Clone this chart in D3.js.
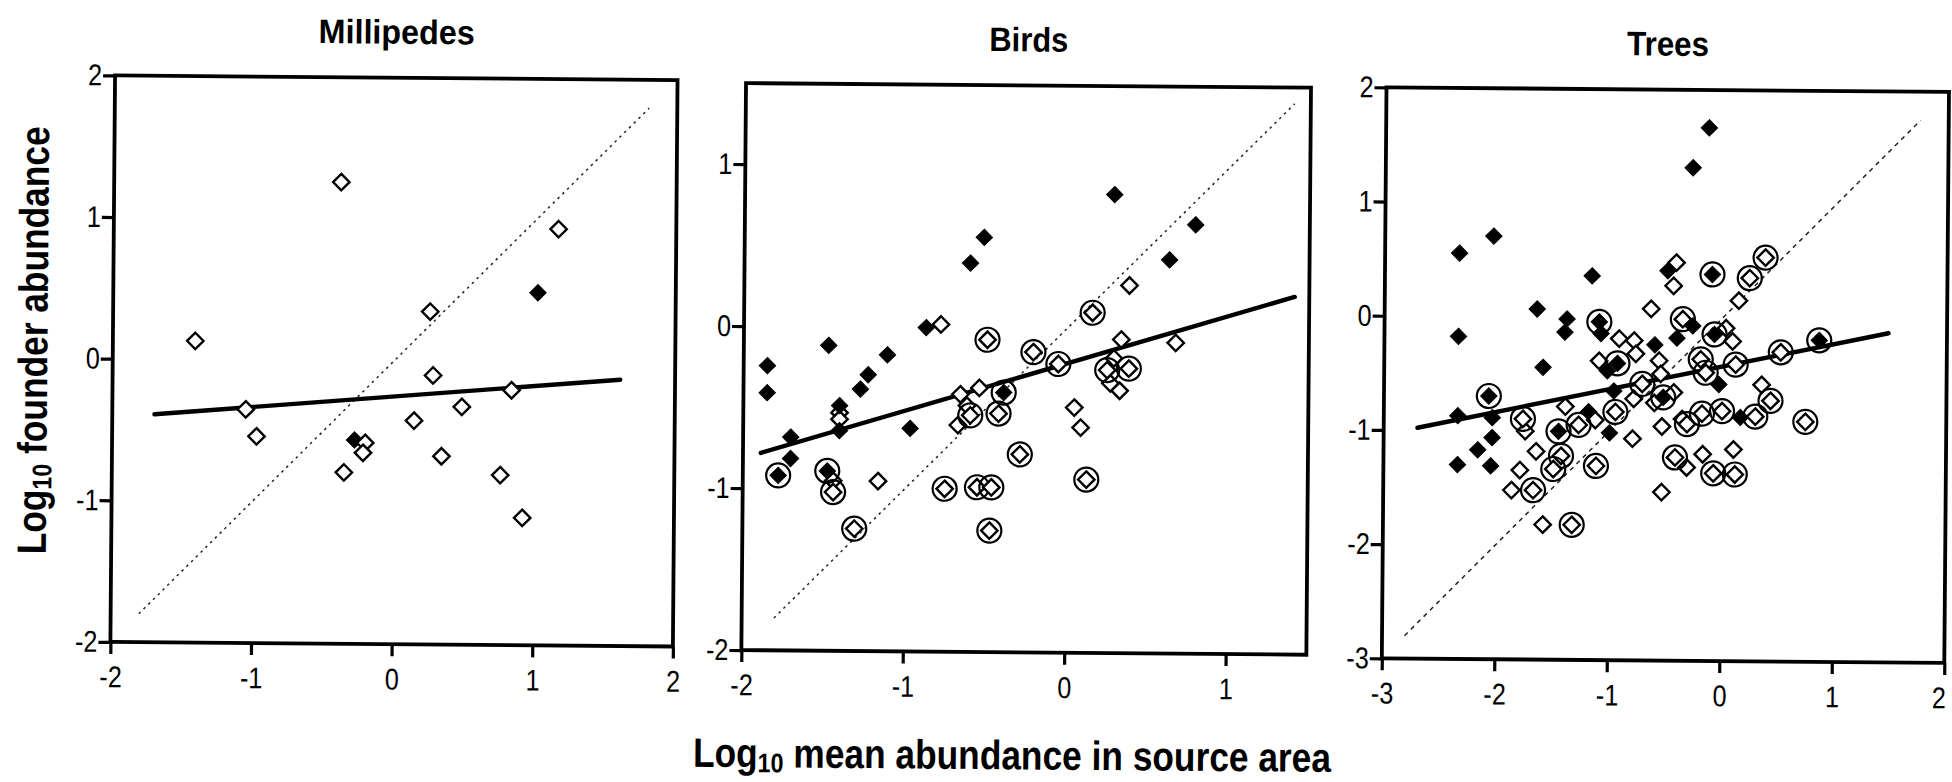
<!DOCTYPE html>
<html><head><meta charset="utf-8">
<script src="https://cdn.jsdelivr.net/npm/d3@7"></script>
<style>html,body{margin:0;padding:0;background:#fff;}svg{display:block}</style>
</head><body>
<svg id="chart" width="1952" height="782"></svg>
<script>
// ---------------- data ----------------
const panelTitles = ["Millipedes", "Birds", "Trees"];
const xAxisTitle = ["Log", "10", " mean abundance in source area"];
const yAxisTitle = ["Log", "10", " founder abundance"];

// point types: f = filled, o = open, fc = filled circled, oc = open circled
const millipedes = [
  [-0.276,-0.56,"f"], [1.02,0.49,"f"],
  [-0.385,1.26,"o"], [1.163,0.94,"o"], [0.255,0.35,"o"], [-1.414,0.13,"o"],
  [0.279,-0.10,"o"], [0.838,-0.20,"o"], [-1.051,-0.35,"o"], [0.485,-0.32,"o"],
  [0.146,-0.42,"o"], [-0.973,-0.54,"o"], [-0.20,-0.58,"o"], [-0.215,-0.65,"o"],
  [0.343,-0.67,"o"], [-0.35,-0.79,"o"], [0.762,-0.80,"o"], [0.921,-1.10,"o"]
];
const birds = [
  [-1.404,-0.53,"o"], [-1.404,-0.57,"o"],
  [0.29,0.83,"f"], [-0.516,0.56,"f"], [-0.60,0.40,"f"], [0.793,0.648,"f"], [0.633,0.43,"f"],
  [-1.853,-0.243,"f"], [-1.853,-0.41,"f"], [-1.474,-0.115,"f"], [-1.11,-0.17,"f"],
  [-1.228,-0.294,"f"], [-1.276,-0.383,"f"], [-0.871,0.0,"f"], [-1.404,-0.486,"f"],
  [-1.404,-0.64,"f"], [-1.705,-0.683,"f"], [-1.705,-0.815,"f"], [-0.966,-0.623,"f"],
  [-0.78,0.02,"o"], [-0.656,-0.41,"o"], [-0.539,-0.37,"o"], [-0.615,-0.48,"o"],
  [-0.67,-0.60,"o"], [-1.162,-0.95,"o"], [-1.44,-0.95,"o"], [0.05,-0.486,"o"],
  [0.09,-0.61,"o"], [0.386,0.27,"o"], [0.338,-0.064,"o"], [0.675,-0.082,"o"],
  [0.293,-0.181,"o"], [0.272,-0.335,"o"], [0.33,-0.38,"o"],
  [-1.781,-0.92,"fc"], [-1.477,-0.89,"fc"], [-0.388,-0.397,"fc"],
  [0.159,0.10,"oc"], [-0.491,-0.072,"oc"], [-0.206,-0.146,"oc"], [-0.051,-0.218,"oc"],
  [-0.594,-0.54,"oc"], [-0.419,-0.527,"oc"], [-0.285,-0.778,"oc"], [0.128,-0.93,"oc"],
  [-0.749,-0.994,"oc"], [-0.549,-0.983,"oc"], [-0.46,-0.983,"oc"], [-1.307,-1.245,"oc"],
  [-0.47,-1.25,"oc"], [-1.44,-1.02,"oc"], [0.252,-0.253,"oc"], [0.386,-0.243,"oc"]
];
const trees = [
  [-0.127,1.668,"f"], [-0.268,1.318,"f"], [-2.035,0.705,"f"], [-2.338,0.554,"f"],
  [-1.158,0.364,"f"], [-0.485,0.414,"f"], [-1.644,0.07,"f"], [-1.378,-0.015,"f"],
  [-1.396,-0.131,"f"], [-1.075,-0.14,"f"], [-2.342,-0.175,"f"], [-1.588,-0.44,"f"],
  [-0.26,-0.067,"f"], [-0.4,-0.175,"f"], [-0.596,-0.236,"f"], [-1.016,-0.467,"f"],
  [-0.024,-0.578,"f"], [-0.957,-0.642,"f"], [-2.342,-0.87,"f"], [-2.036,-0.884,"f"],
  [-2.036,-1.059,"f"], [-2.163,-1.167,"f"], [-2.342,-1.298,"f"], [-2.047,-1.307,"f"],
  [-1.18,-0.826,"f"], [-0.993,-1.01,"f"], [0.169,-0.865,"f"],
  [-0.409,0.486,"o"], [-0.433,0.283,"o"], [-0.631,0.079,"o"], [0.036,-0.085,"o"],
  [0.095,-0.2,"o"], [-0.913,-0.184,"o"], [-0.78,-0.2,"o"], [-0.764,-0.315,"o"],
  [-1.09,-0.38,"o"], [-0.557,-0.374,"o"], [-0.542,-0.49,"o"], [-0.78,-0.71,"o"],
  [-0.424,-0.651,"o"], [-0.596,-0.744,"o"], [-1.387,-0.782,"o"], [-1.742,-1.0,"o"],
  [-1.12,-0.898,"o"], [-0.788,-1.059,"o"], [-1.644,-1.176,"o"], [-1.787,-1.342,"o"],
  [-1.86,-1.517,"o"], [-0.527,-1.525,"o"], [-1.58,-1.817,"o"], [-0.527,-0.95,"o"],
  [-0.349,-0.884,"o"], [-0.305,-1.307,"o"], [-0.163,-1.19,"o"], [0.11,-1.146,"o"],
  [0.148,0.157,"o"], [0.356,-0.578,"o"],
  [-0.089,0.385,"fc"], [-1.091,-0.038,"fc"], [-0.066,-0.14,"fc"], [-0.927,-0.40,"fc"],
  [-0.518,-0.695,"fc"], [-2.068,-0.695,"fc"], [-1.446,-1.0,"fc"], [0.865,-0.184,"fc"],
  [-0.349,-0.009,"oc"], [-0.187,-0.36,"oc"], [-0.142,-0.476,"oc"], [-0.705,-0.578,"oc"],
  [-1.763,-0.893,"oc"], [-1.268,-0.942,"oc"], [-0.942,-0.826,"oc"], [-1.422,-1.214,"oc"],
  [-1.49,-1.33,"oc"], [-1.668,-1.517,"oc"], [-1.111,-1.30,"oc"], [-1.322,-1.817,"oc"],
  [-0.305,-0.927,"oc"], [-0.172,-0.835,"oc"], [0.006,-0.811,"oc"], [-0.409,-1.22,"oc"],
  [-0.068,-1.356,"oc"], [0.124,-1.365,"oc"], [0.382,0.536,"oc"], [0.243,0.355,"oc"],
  [0.124,-0.402,"oc"], [0.524,-0.292,"oc"], [0.436,-0.718,"oc"], [0.302,-0.856,"oc"],
  [0.747,-0.899,"oc"]
];

const millXDomain = [-2, 2],   millYDomain = [-2, 2];
const birdsXDomain = [-2, 1.5], birdsYDomain = [-2, 1.5];
const treesXDomain = [-3, 2],  treesYDomain = [-3, 2];
const millXTicks = [-2,-1,0,1,2],  millYTicks = [-2,-1,0,1,2];
const birdsXTicks = [-2,-1,0,1],   birdsYTicks = [-2,-1,0,1];
const treesXTicks = [-3,-2,-1,0,1,2], treesYTicks = [-3,-2,-1,0,1,2];

// regression lines: [intercept, slope, xStart, xEnd]
const millFit  = [-0.251, 0.082, -1.70, 1.61];
const birdsFit = [-0.215, 0.300, -1.89, 1.41];
const treesFit = [-0.422, 0.206, -2.70, 1.48];
// 1:1 reference lines: [start, end]
const millDiag  = [-1.80, 1.80];
const birdsDiag = [-1.80, 1.40];
const treesDiag = [-2.80, 1.75];

// ---------------- layout / style ----------------
const layout = [
  {left:112.5, right:675,    top:82.5, bottom:649, titleW:156},
  {left:743.5, right:1308.5, top:85,   bottom:652, titleW:79},
  {left:1384,  right:1946.5, top:84,   bottom:655, titleW:82}
];
const dashes = ["2.5,4.2", "2.5,4.2", "4.5,4.5"];

function fontAvailable(name){
  const c = document.createElement('canvas').getContext('2d');
  const s = 'abcdefghijklmnopqrstuvwxyz0123456789-';
  c.font = '40px monospace'; const w1 = c.measureText(s).width;
  c.font = '40px "' + name + '", monospace'; const w2 = c.measureText(s).width;
  return Math.abs(w1 - w2) > 0.5;
}
const hasNarrow = fontAvailable('Liberation Sans Narrow');
const narrowFam = '"Liberation Sans Narrow", "Arial Narrow", "Liberation Sans", Arial, sans-serif';

const svg = d3.select('#chart');
svg.append('rect').attr('width',1952).attr('height',782).attr('fill','#fff');
const root = svg.append('g').attr('transform','rotate(0.47,976,391)');

const panels = [
  {pts:millipedes, xd:millXDomain, yd:millYDomain, xt:millXTicks, yt:millYTicks, fit:millFit, diag:millDiag},
  {pts:birds, xd:birdsXDomain, yd:birdsYDomain, xt:birdsXTicks, yt:birdsYTicks, fit:birdsFit, diag:birdsDiag},
  {pts:trees, xd:treesXDomain, yd:treesYDomain, xt:treesXTicks, yt:treesYTicks, fit:treesFit, diag:treesDiag}
];

const R = 8.2;
const diamondPath = `M0,${-R}L${R},0L0,${R}L${-R},0Z`;
const narrowTexts = [];

panels.forEach((p, i) => {
  const L = layout[i];
  const x = d3.scaleLinear().domain(p.xd).range([L.left, L.right]);
  const y = d3.scaleLinear().domain(p.yd).range([L.bottom, L.top]);
  const g = root.append('g');

  g.append('text')
    .attr('x', (L.left + L.right) / 2).attr('y', L.top - 34)
    .attr('text-anchor', 'middle')
    .attr('font-family', narrowFam).attr('font-weight', 'bold').attr('font-size', 34)
    .attr('textLength', L.titleW).attr('lengthAdjust', 'spacingAndGlyphs')
    .text(panelTitles[i]);

  // 1:1 line
  g.append('line')
    .attr('x1', x(p.diag[0])).attr('y1', y(p.diag[0]))
    .attr('x2', x(p.diag[1])).attr('y2', y(p.diag[1]))
    .attr('stroke', '#222').attr('stroke-width', 1.5)
    .attr('stroke-dasharray', dashes[i]);

  // regression line
  const [b0, b1, xa, xb] = p.fit;
  g.append('line')
    .attr('x1', x(xa)).attr('y1', y(b0 + b1 * xa))
    .attr('x2', x(xb)).attr('y2', y(b0 + b1 * xb))
    .attr('stroke', '#000').attr('stroke-width', 4.4).attr('stroke-linecap', 'round');

  // points
  const pg = g.append('g');
  p.pts.forEach(([vx, vy, t]) => {
    const cx = x(vx), cy = y(vy);
    if (t.length > 1) {
      pg.append('circle').attr('cx', cx).attr('cy', cy).attr('r', 12)
        .attr('fill', 'none').attr('stroke', '#000').attr('stroke-width', 2.2);
    }
    const filled = t[0] === 'f';
    pg.append('path').attr('d', diamondPath)
      .attr('transform', `translate(${cx},${cy})`)
      .attr('fill', filled ? '#000' : '#fff')
      .attr('stroke', '#000').attr('stroke-width', filled ? 1 : 2.4)
      .attr('stroke-linejoin', 'miter');
  });

  // frame
  g.append('rect')
    .attr('x', L.left).attr('y', L.top)
    .attr('width', L.right - L.left).attr('height', L.bottom - L.top)
    .attr('fill', 'none').attr('stroke', '#000').attr('stroke-width', 3.8);

  // axes
  const fmt = d => String(d);
  const xa_ = g.append('g').attr('transform', `translate(0,${L.bottom})`)
    .call(d3.axisBottom(x).tickValues(p.xt).tickSize(12).tickPadding(12).tickFormat(fmt));
  const ya_ = g.append('g').attr('transform', `translate(${L.left},0)`)
    .call(d3.axisLeft(y).tickValues(p.yt).tickSize(12).tickPadding(1).tickFormat(fmt));
  [xa_, ya_].forEach(a => {
    a.select('.domain').remove();
    a.selectAll('.tick line').attr('stroke', '#000').attr('stroke-width', 3.2);
    a.selectAll('.tick text').attr('fill', '#000')
      .attr('font-family', narrowFam).attr('font-size', 30)
      .each(function(){ narrowTexts.push(this); });
  });
});

// axis titles: natural tspans, narrowed by a horizontal scale on the group
function addTitle(parts, tx, ty, rot, len) {
  const g = root.append('g');
  const t = g.append('text')
    .attr('font-family', narrowFam).attr('font-weight', 'bold').attr('font-size', 41)
    .attr('text-anchor', 'middle').attr('x', 0).attr('y', 0);
  t.append('tspan').text(parts[0]);
  t.append('tspan').attr('font-size', 27).attr('dy', 5).text(parts[1]);
  t.append('tspan').attr('dy', -5).text(parts[2]);
  const w = t.node().getComputedTextLength();
  const sx = len / w;
  g.attr('transform', `translate(${tx},${ty}) rotate(${rot}) scale(${sx},1)`);
}
addTitle(xAxisTitle, 1015, 769, 0, 638);
addTitle(yAxisTitle, 47, 348, -90, 428);

// emulate a narrow face if it is not installed
if (!hasNarrow) {
  narrowTexts.forEach(el => {
    const len = el.getComputedTextLength();
    d3.select(el).attr('textLength', len * 0.84).attr('lengthAdjust', 'spacingAndGlyphs');
  });
}
// keep tick labels inside the page
narrowTexts.forEach(el => {
  const b = el.getBoundingClientRect();
  if (b.right > 1946) {
    const tx = +d3.select(el).attr('x') || 0;
    d3.select(el).attr('x', tx - (b.right - 1946));
  }
});
</script>
</body></html>
